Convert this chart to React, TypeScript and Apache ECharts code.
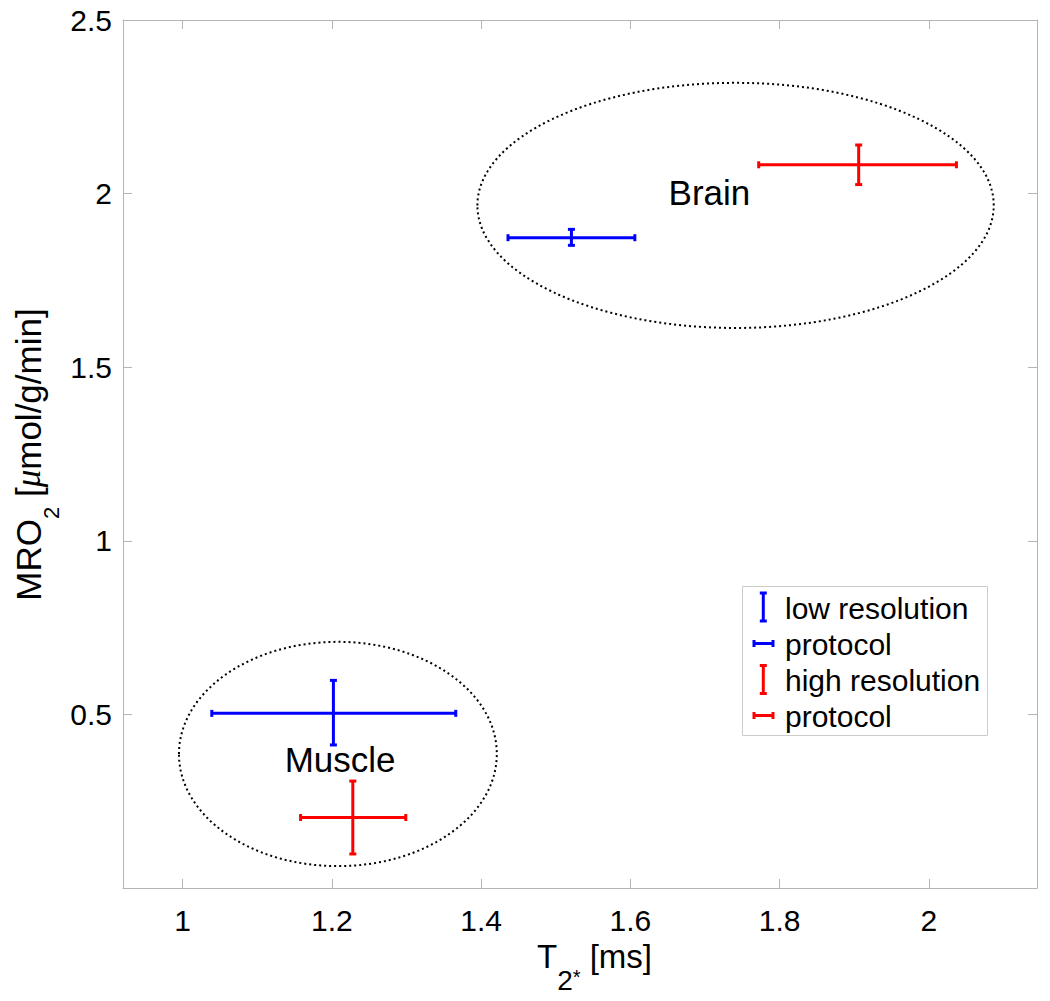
import React, { useEffect, useRef } from 'react';
import * as echarts from 'echarts';

// ---- data ----
const groups = ['Brain', 'Muscle'];
// low resolution protocol (blue)
const lowResT2 = [1.521, 1.202];
const lowResT2Lo = [1.436, 1.039];
const lowResT2Hi = [1.606, 1.366];
const lowResMRO2 = [1.873, 0.503];
const lowResMRO2Lo = [1.851, 0.412];
const lowResMRO2Hi = [1.897, 0.598];
// high resolution protocol (red)
const highResT2 = [1.906, 1.228];
const highResT2Lo = [1.772, 1.158];
const highResT2Hi = [2.037, 1.299];
const highResMRO2 = [2.083, 0.203];
const highResMRO2Lo = [2.026, 0.098];
const highResMRO2Hi = [2.14, 0.308];
// cluster ellipses (centre and radii in data units)
const clusterCx = [1.741, 1.208];
const clusterCy = [1.966, 0.386];
const clusterRx = [0.346, 0.213];
const clusterRy = [0.353, 0.323];
const labelX = [1.706, 1.211];
const labelY = [2.003, 0.369];
// axes
const xTicks = [1, 1.2, 1.4, 1.6, 1.8, 2];
const yTicks = [0.5, 1, 1.5, 2, 2.5];
const legendLabels = ['low resolution', 'protocol', 'high resolution', 'protocol'];
const legendColors = ['#0000ff', '#0000ff', '#ff0000', '#ff0000'];
const legendKinds = ['v', 'h', 'v', 'h'];

const FONT = '"Liberation Sans", Arial, Helvetica, sans-serif';
const AXIS_GRAY = '#b4b4b4';

function errorBarRender(color: string) {
  return (params: any, api: any) => {
    const x = api.value(0), y = api.value(1);
    const pl = api.coord([api.value(2), y]);
    const ph = api.coord([api.value(3), y]);
    const pb = api.coord([x, api.value(4)]);
    const pt = api.coord([x, api.value(5)]);
    const cap = 3.5;
    const st = { stroke: color, lineWidth: 3, fill: 'none' };
    const ln = (x1: number, y1: number, x2: number, y2: number) => ({
      type: 'line', shape: { x1, y1, x2, y2 }, style: st,
    });
    return {
      type: 'group',
      children: [
        ln(pl[0], pl[1], ph[0], ph[1]),
        ln(pl[0], pl[1] - cap, pl[0], pl[1] + cap),
        ln(ph[0], ph[1] - cap, ph[0], ph[1] + cap),
        ln(pb[0], pb[1], pt[0], pt[1]),
        ln(pb[0] - cap, pb[1], pb[0] + cap, pb[1]),
        ln(pt[0] - cap, pt[1], pt[0] + cap, pt[1]),
      ],
    };
  };
}

function axisCommon(pos: string, ticks: number[], showLabel: boolean, min: number, max: number) {
  return {
    type: 'value',
    position: pos,
    min,
    max,
    axisLine: { show: true, onZero: false, lineStyle: { color: AXIS_GRAY, width: 1 } },
    axisTick: { show: true, inside: true, length: 9, customValues: ticks, lineStyle: { color: AXIS_GRAY, width: 1 } },
    axisLabel: {
      show: showLabel,
      customValues: ticks,
      fontSize: 30,
      color: '#000',
      fontFamily: FONT,
      margin: pos === 'left' ? 11 : 17,
    },
    splitLine: { show: false },
  };
}

export default function App() {
  const ref = useRef<HTMLDivElement>(null);
  useEffect(() => {
    const chart = echarts.init(ref.current!, null, { renderer: 'svg' });

    const legendRowY = [607, 643.5, 679.5, 715.5];
    const legendChildren: any[] = [
      {
        type: 'rect',
        shape: { x: 742.5, y: 586.5, width: 245, height: 149 },
        style: { fill: '#fff', stroke: '#cccccc', lineWidth: 1 },
      },
    ];
    legendLabels.forEach((lab, i) => {
      const cy = legendRowY[i];
      const col = legendColors[i];
      const st = { stroke: col, lineWidth: 3 };
      if (legendKinds[i] === 'v') {
        const cx = 763.3;
        legendChildren.push(
          { type: 'line', shape: { x1: cx, y1: cy - 14, x2: cx, y2: cy + 14 }, style: st },
          { type: 'line', shape: { x1: cx - 3.5, y1: cy - 14, x2: cx + 3.5, y2: cy - 14 }, style: st },
          { type: 'line', shape: { x1: cx - 3.5, y1: cy + 14, x2: cx + 3.5, y2: cy + 14 }, style: st },
        );
      } else {
        legendChildren.push(
          { type: 'line', shape: { x1: 754, y1: cy, x2: 773, y2: cy }, style: st },
          { type: 'line', shape: { x1: 754, y1: cy - 3.5, x2: 754, y2: cy + 3.5 }, style: st },
          { type: 'line', shape: { x1: 773, y1: cy - 3.5, x2: 773, y2: cy + 3.5 }, style: st },
        );
      }
      legendChildren.push({
        type: 'text',
        x: 785,
        y: cy + 1,
        style: { text: lab, fontSize: 30, fontFamily: FONT, fill: '#000', align: 'left', verticalAlign: 'middle' },
      });
    });

    const option: any = {
      animation: false,
      backgroundColor: '#fff',
      grid: { left: 123, right: 13, top: 20, bottom: 113, containLabel: false, outerBoundsMode: 'none' },
      xAxis: [axisCommon('bottom', xTicks, true, 0.92, 2.145), axisCommon('top', xTicks, false, 0.92, 2.145)],
      yAxis: [axisCommon('left', yTicks, true, 0, 2.5), axisCommon('right', yTicks, false, 0, 2.5)],
      series: [
        {
          type: 'custom',
          name: 'clusters',
          xAxisIndex: 0,
          yAxisIndex: 0,
          silent: true,
          data: groups.map((g, i) => [clusterCx[i], clusterCy[i], clusterRx[i], clusterRy[i]]),
          renderItem: (params: any, api: any) => {
            const c = api.coord([api.value(0), api.value(1)]);
            const s = api.size([api.value(2), api.value(3)]);
            return {
              type: 'ellipse',
              shape: { cx: c[0], cy: c[1], rx: s[0], ry: s[1] },
              style: { fill: 'none', stroke: '#000', lineWidth: 2, lineDash: [2, 3] },
            };
          },
        },
        {
          type: 'custom',
          name: 'labels',
          xAxisIndex: 0,
          yAxisIndex: 0,
          silent: true,
          data: groups.map((g, i) => [labelX[i], labelY[i], g]),
          renderItem: (params: any, api: any) => {
            const c = api.coord([api.value(0), api.value(1)]);
            return {
              type: 'text',
              x: c[0],
              y: c[1],
              style: {
                text: groups[params.dataIndex],
                fontSize: 35,
                fontFamily: FONT,
                fill: '#000',
                align: 'center',
                verticalAlign: 'middle',
              },
            };
          },
        },
        {
          type: 'custom',
          name: 'low resolution protocol',
          xAxisIndex: 0,
          yAxisIndex: 0,
          data: groups.map((g, i) => [lowResT2[i], lowResMRO2[i], lowResT2Lo[i], lowResT2Hi[i], lowResMRO2Lo[i], lowResMRO2Hi[i]]),
          renderItem: errorBarRender('#0000ff'),
        },
        {
          type: 'custom',
          name: 'high resolution protocol',
          xAxisIndex: 0,
          yAxisIndex: 0,
          data: groups.map((g, i) => [highResT2[i], highResMRO2[i], highResT2Lo[i], highResT2Hi[i], highResMRO2Lo[i], highResMRO2Hi[i]]),
          renderItem: errorBarRender('#ff0000'),
        },
      ],
      graphic: [
        { type: 'group', children: legendChildren },
        {
          type: 'text',
          x: 537,
          y: 940,
          style: {
            text: '{a|T}{s|2}{t|*}{a| [ms]}',
            align: 'left',
            verticalAlign: 'top',
            fill: '#000',
            rich: {
              a: { fontSize: 33, lineHeight: 33, verticalAlign: 'top', fontFamily: FONT, fill: '#000' },
              s: { fontSize: 28, lineHeight: 54, verticalAlign: 'bottom', fontFamily: FONT, fill: '#000' },
              t: { fontSize: 20, lineHeight: 54, verticalAlign: 'bottom', padding: [0, 0, 7, 0], fontFamily: FONT, fill: '#000' },
            },
          },
        },
        {
          type: 'text',
          x: 11,
          y: 454.5,
          rotation: Math.PI / 2,
          style: {
            text: '{a|MRO}{s|2}{a| [}{m|μ}{a|mol/g/min]}',
            align: 'center',
            verticalAlign: 'top',
            fill: '#000',
            rich: {
              a: { fontSize: 35, lineHeight: 35, verticalAlign: 'top', fontFamily: FONT, fill: '#000' },
              s: { fontSize: 22, lineHeight: 51, verticalAlign: 'bottom', fontFamily: FONT, fill: '#000' },
              m: { fontSize: 35, lineHeight: 35, verticalAlign: 'top', fontFamily: '"Liberation Serif", "DejaVu Serif", serif', fontStyle: 'italic', fill: '#000' },
            },
          },
        },
      ],
    };
    chart.setOption(option);
    return () => chart.dispose();
  }, []);
  return (
    <div
      ref={ref}
      style={{ position: 'fixed', left: 0, top: 0, width: 1050, height: 1001, background: '#fff' }}
    />
  );
}
